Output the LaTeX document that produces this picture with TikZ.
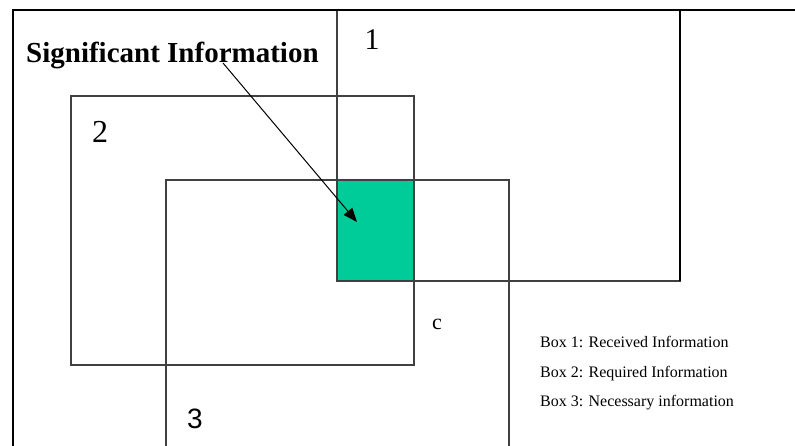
\documentclass[tikz,border=0pt]{standalone}
\usepackage{fontspec}
\setmainfont{Liberation Serif}
\newfontfamily\arialfont{Liberation Sans}
\usetikzlibrary{arrows.meta}
\definecolor{sigreen}{HTML}{00CC99}
\begin{document}
\begin{tikzpicture}[x=1pt,y=-1pt,
  boxline/.style={draw=black!75,line width=1.3pt},
  frameline/.style={draw=black,line width=2pt},
  lbl/.style={inner sep=0pt,anchor=base},
  legend/.style={inner sep=0pt,anchor=base west,font=\fontsize{16}{19}\selectfont}]
\useasboundingbox (0,0) rectangle (795,445);
\fill[white] (0,0) rectangle (795,445);
% significant region
\fill[sigreen] (337,180) rectangle (414,281);
% boxes
\draw[boxline] (337,10) rectangle (680,281);
\draw[boxline] (71,96) rectangle (414,365);
\draw[boxline] (166,446) -- (166,180) -- (509,180) -- (509,446);
% frame
\draw[frameline] (13,446) -- (13,10) -- (796,10);
\draw[draw=black,line width=1.6pt] (680,10) -- (680,281);
% labels
\node[lbl,anchor=base west,font=\fontsize{29}{34}\selectfont\bfseries] (sig) at (26,62) {Significant Information};
\node[lbl,font=\fontsize{30}{36}\selectfont] (n1) at (372,49) {1};
\node[lbl,font=\fontsize{32}{38}\selectfont] (n2) at (100,142) {2};
\node[lbl,font=\arialfont\fontsize{28}{34}\selectfont] (n3) at (195,428) {3};
\node[lbl,font=\fontsize{22}{26}\selectfont] (nc) at (437,329) {c};
\node[legend] (l1) at (540,347) {Box 1: Received Information};
\node[legend] (l2) at (540,377) {Box 2: Required Information};
\node[legend] (l3) at (540,406) {Box 3: Necessary information};
% arrow
\coordinate (as) at (223,63);
\coordinate (at) at (357,222);
\draw[line width=1pt,-{Triangle[length=14pt,width=11pt]}] (as) -- (at);
\end{tikzpicture}
\end{document}
